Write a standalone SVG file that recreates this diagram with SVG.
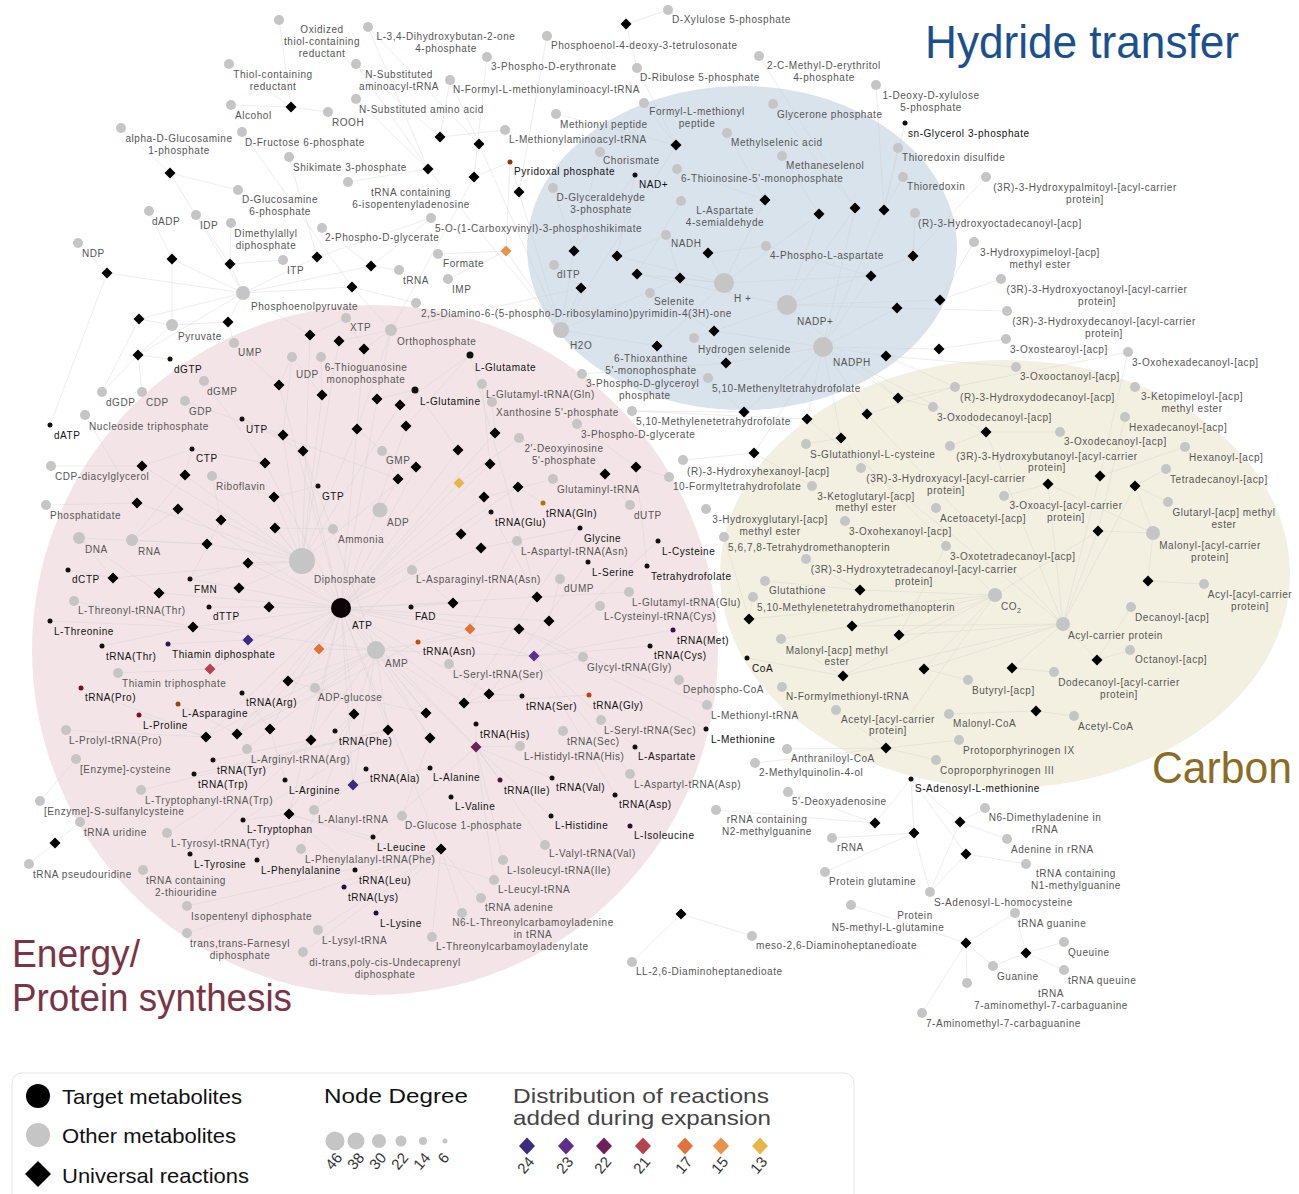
<svg xmlns="http://www.w3.org/2000/svg" xmlns:xlink="http://www.w3.org/1999/xlink" width="1299" height="1194" viewBox="0 0 1299 1194">
<style>
text{font-family:"Liberation Sans",Arial,Helvetica,sans-serif;font-size:10px;letter-spacing:0.55px}
.m text{fill:#555}
.c{text-anchor:middle}
.e path{fill:none;stroke:#cfcfcf;stroke-width:0.5;opacity:0.75}
.lg text{font-size:21px;letter-spacing:0;fill:#111}
.ln text{font-size:15px;letter-spacing:0;fill:#333}
text.ht{font-size:46px;letter-spacing:0;fill:#1c4f8e}
text.cb{font-size:44px;letter-spacing:0;fill:#8c6b25}
text.ep{font-size:38px;letter-spacing:0;fill:#7a3347}
</style>
<defs>
<path id="dia" d="M0,-5.5L5.5,0L0,5.5L-5.5,0Z"/>
<path id="dial" d="M0,-8.5L8,0L0,8.5L-8,0Z"/>
</defs>
<rect width="1299" height="1194" fill="#fff"/>
<g id="regions">
<ellipse cx="375" cy="650" rx="343" ry="345" fill="#f3e5e7"/>
<ellipse cx="742" cy="248" rx="215" ry="162" fill="#d9e3eb"/>
<ellipse cx="1005" cy="574" rx="285" ry="214" fill="#f4f0e1"/>
</g>
<g id="connectors" class="e">
<path d="M291 107L229 64M291 107L231 105M291 107L328 112M291 107L279 20"/>
<path d="M170 173L121 128M170 173L238 190M170 173L243 293"/>
<path d="M428 169L356 99M428 169L356 64M428 169L368 27M428 169L348 182M428 169L561 330"/>
<path d="M440 137L356 64M440 137L505 130M440 137L450 80"/>
<path d="M479 144L450 80M479 144L368 27M479 144L561 330"/>
<path d="M474 177L487 57M474 177L510 162M474 177L391 330"/>
<path d="M519 192L510 162M519 192L547 36M519 192L561 330"/>
<path d="M626 24L668 10M626 24L637 68"/>
<path d="M506 251L438 254M506 251L448 279M506 251L510 162M506 251L561 330"/>
<path d="M676 145L644 103M676 145L556 114M676 145L561 330M676 145L637 68"/>
<path d="M765 200L677 169M765 200L727 133M765 200L724 283"/>
<path d="M819 214L782 156M819 214L724 283M819 214L787 305"/>
<path d="M855 208L773 104M855 208L823 347M855 208L787 305M855 208L759 56"/>
<path d="M574 251L553 188M574 251L561 330M574 251L635 175M574 251L600 152"/>
<path d="M617 256L635 175M617 256L666 235M617 256L724 283"/>
<path d="M637 274L681 201M637 274L724 283M637 274L787 305"/>
<path d="M680 278L666 235M680 278L724 283M680 278L561 330"/>
<path d="M708 253L666 235M708 253L766 246M708 253L724 283"/>
<path d="M581 288L554 265M581 288L561 330M581 288L391 330"/>
<path d="M714 331L650 293M714 331L694 338M714 331L823 347M714 331L787 305"/>
<path d="M657 346L708 378M657 346L561 330M657 346L724 283"/>
<path d="M726 363L694 338M726 363L823 347M726 363L582 374"/>
<path d="M884 210L903 177M884 210L898 148M884 210L823 347M884 210L905 123M884 210L876 85"/>
<path d="M913 256L915 213M913 256L986 177M913 256L787 305"/>
<path d="M871 276L724 283M871 276L823 347M871 276L766 246"/>
<path d="M940 300L974 242M940 300L1001 279M940 300L787 305"/>
<path d="M897 308L1007 311M897 308L787 305M897 308L823 347"/>
<path d="M939 349L1006 339M939 349L823 347"/>
<path d="M886 356L823 347M886 356L1016 367M886 356L955 387"/>
<path d="M744 412L708 378M744 412L632 411M744 412L823 347"/>
<path d="M807 419L823 347M807 419L632 411M807 419L1063 624"/>
<path d="M754 453L683 460M754 453L812 486M754 453L823 347"/>
<path d="M841 438L806 444M841 438L823 347M841 438L995 595"/>
<path d="M867 414L955 387M867 414L823 347M867 414L1063 624"/>
<path d="M898 398L933 407M898 398L823 347M898 398L787 305M898 398L1128 352"/>
<path d="M986 432L1060 432M986 432L950 446M986 432L1063 624M986 432L823 347"/>
<path d="M1100 476L1128 352M1100 476L1185 447M1100 476L1063 624"/>
<path d="M1048 484L1004 496M1048 484L1063 624M1048 484L1153 533"/>
<path d="M1135 486L1166 469M1135 486L1168 502M1135 486L1153 533M1135 486L1063 624"/>
<path d="M1098 531L1153 533M1098 531L1063 624M1098 531L995 595M1098 531L1125 417"/>
<path d="M860 590L765 581M860 590L806 559M860 590L995 595"/>
<path d="M1148 581L1153 533M1148 581L1204 584"/>
<path d="M852 626L995 595M852 626L781 639M852 626L1063 624"/>
<path d="M749 619L753 597M749 619L724 537M749 619L995 595"/>
<path d="M899 635L995 595M899 635L1063 624M899 635L946 546"/>
<path d="M924 669L995 595M924 669L968 680M924 669L1063 624"/>
<path d="M1012 668L1063 624M1012 668L1054 672"/>
<path d="M1097 660L1063 624M1097 660L1130 650M1097 660L1131 607"/>
<path d="M843 676L747 658M843 676L781 639M843 676L1063 624M843 676L995 595"/>
<path d="M1036 711L949 714M1036 711L1074 716"/>
<path d="M886 748L959 740M886 748L936 760M886 748L995 595M886 748L787 749M886 748L755 763M886 748L836 710"/>
<path d="M875 823L911 779M875 823L788 792M875 823L716 810"/>
<path d="M914 833L911 779M914 833L832 838M914 833L930 892M914 833L825 872"/>
<path d="M960 822L911 779M960 822L985 808M960 822L1007 839M960 822L930 892"/>
<path d="M966 854L911 779M966 854L1026 864M966 854L930 892"/>
<path d="M966 943L1015 913M966 943L922 1013M966 943L967 983M966 943L993 966M966 943L851 905"/>
<path d="M1026 953L1015 913M1026 953L1064 942M1026 953L1064 970M1026 953L993 966"/>
<path d="M681 914L752 936M681 914L632 962"/>
<path d="M55 843L80 822M55 843L29 864"/>
<path d="M172 259L149 211M172 259L243 293M172 259L172 325"/>
<path d="M230 264L196 215M230 264L283 260M230 264L243 293M230 264L231 223"/>
<path d="M317 257L289 157M317 257L431 218M317 257L243 293"/>
<path d="M371 266L322 228M371 266L399 270M371 266L243 293M371 266L431 218"/>
<path d="M352 287L243 293M352 287L242 132M352 287L391 330M352 287L416 303"/>
<path d="M107 273L78 243M107 273L243 293M107 273L50 425"/>
<path d="M139 319L172 325M139 319L243 293M139 319L102 392"/>
<path d="M228 322L172 325M228 322L243 293M228 322L234 343"/>
<path d="M310 335L346 318M310 335L243 293M310 335L302 561"/>
<path d="M339 341L391 330M339 341L302 561"/>
<path d="M364 349L391 330M364 349L346 318M364 349L341 608"/>
<path d="M138 355L170 359M138 355L102 392M138 355L172 325M138 355L243 293M138 355L142 392"/>
<path d="M279 385L234 343M279 385L292 357M279 385L341 608"/>
<path d="M322 395L292 357M322 395L321 357M322 395L302 561"/>
<path d="M377 399L415 390M377 399L391 330M377 399L341 608"/>
<path d="M400 405L415 390M400 405L302 561M400 405L470 355"/>
<path d="M406 426L470 355M406 426L341 608"/>
<path d="M357 429L382 451M357 429L302 561M357 429L391 330"/>
<path d="M283 435L242 419M283 435L292 357M283 435L302 561"/>
<path d="M303 451L341 608M303 451L242 419M303 451L376 650"/>
<path d="M265 463L192 449M265 463L341 608M265 463L204 381"/>
<path d="M416 467L382 451M416 467L341 608M416 467L302 561"/>
<path d="M398 479L382 451M398 479L380 510M398 479L185 401"/>
<path d="M142 466L51 466M142 466L192 449M142 466L302 561"/>
<path d="M185 475L192 449M185 475L302 561M185 475L132 540"/>
<path d="M274 497L318 486M274 497L302 561M274 497L212 476"/>
<path d="M137 503L46 505M137 503L302 561M137 503L85 415"/>
<path d="M178 509L132 540M178 509L341 608"/>
<path d="M221 520L302 561M221 520L190 579M221 520L212 476"/>
<path d="M275 528L341 608M275 528L302 561M275 528L333 529"/>
<path d="M207 544L132 540M207 544L302 561M207 544L79 538"/>
<path d="M248 563L302 561M248 563L341 608M248 563L190 579"/>
<path d="M113 578L68 570M113 578L79 538M113 578L302 561"/>
<path d="M159 593L79 538M159 593L341 608"/>
<path d="M239 588L190 579M239 588L302 561M239 588L341 608"/>
<path d="M269 607L341 608M269 607L209 607"/>
<path d="M193 627L74 601M193 627L50 621M193 627L102 646M193 627L341 608M193 627L376 650"/>
<path d="M248 640L168 644M248 640L341 608"/>
<path d="M210 669L118 673M210 669L168 644M210 669L341 608"/>
<path d="M319 649L341 608M319 649L376 650"/>
<path d="M288 681L341 608M288 681L376 650M288 681L315 688"/>
<path d="M206 737L139 715M206 737L81 688M206 737L66 730M206 737L341 608M206 737L376 650"/>
<path d="M237 734L178 704M237 734L418 642M237 734L341 608M237 734L376 650M237 734L412 570"/>
<path d="M270 729L242 693M270 729L285 780M270 729L247 749M270 729L341 608M270 729L376 650"/>
<path d="M311 740L213 760M311 740L190 854M311 740L167 833M311 740L341 608M311 740L376 650"/>
<path d="M354 714L335 731M354 714L257 860M354 714L301 849M354 714L341 608M354 714L376 650"/>
<path d="M388 730L194 774M388 730L243 820M388 730L141 790M388 730L341 608M388 730L376 650"/>
<path d="M430 738L341 608M430 738L376 650M430 738L402 816"/>
<path d="M426 713L341 608M426 713L376 650M426 713L315 688"/>
<path d="M353 785L366 769M353 785L430 768M353 785L314 810M353 785L341 608M353 785L376 650"/>
<path d="M289 814L243 820M289 814L341 608M289 814L355 870M289 814L373 837M289 814L494 880"/>
<path d="M441 849L376 913M441 849L344 887M441 849L318 930M441 849L341 608M441 849L481 898M441 849L462 913M441 849L432 937M441 849L187 906M441 849L187 933M441 849L303 952"/>
<path d="M464 703L589 695M464 703L580 528M464 703L583 657M464 703L341 608M464 703L376 650"/>
<path d="M489 694L522 696M489 694L588 562M489 694L449 664M489 694L341 608"/>
<path d="M476 747L476 724M476 747L551 816M476 747L520 746M476 747L341 608M476 747L376 650M476 747L500 780M476 747L503 860M476 747L552 778M476 747L545 845M476 747L373 837M476 747L494 880"/>
<path d="M470 629L418 642M470 629L517 541M470 629L341 608"/>
<path d="M534 656L673 630M534 656L650 646M534 656L600 606M534 656L658 541M534 656L341 608M534 656L376 650M534 656L635 747M534 656L615 795M534 656L630 774"/>
<path d="M453 603L411 607M453 603L341 608M453 603L412 570"/>
<path d="M537 597L629 592M537 597L491 512M537 597L470 355M537 597L341 608"/>
<path d="M549 621L560 579M549 621L341 608"/>
<path d="M519 629L341 608M519 629L376 650M519 629L706 729M519 629L707 705"/>
<path d="M495 433L492 402M495 433L341 608"/>
<path d="M458 450L415 390M458 450L341 608"/>
<path d="M490 464L482 384M490 464L341 608"/>
<path d="M518 487L543 503M518 487L341 608"/>
<path d="M484 497L553 479M484 497L341 608"/>
<path d="M459 483L519 438M459 483L341 608"/>
<path d="M461 534L341 608M461 534L491 512"/>
<path d="M481 548L580 528M481 548L341 608"/>
<path d="M605 474L630 505M605 474L519 438M605 474L577 424"/>
<path d="M636 467L577 424M636 467L647 566M636 467L669 477"/>
<path d="M40 801L76 759"/>
</g>
<g id="reactions" fill="#000">
<use href="#dia" x="291" y="107"/><use href="#dia" x="170" y="173"/><use href="#dia" x="428" y="169"/><use href="#dia" x="440" y="137"/><use href="#dia" x="172" y="259"/><use href="#dia" x="230" y="264"/><use href="#dia" x="317" y="257"/><use href="#dia" x="371" y="266"/><use href="#dia" x="352" y="287"/><use href="#dia" x="107" y="273"/><use href="#dia" x="139" y="319"/><use href="#dia" x="228" y="322"/><use href="#dia" x="310" y="335"/><use href="#dia" x="339" y="341"/><use href="#dia" x="364" y="349"/><use href="#dia" x="138" y="355"/>
<use href="#dia" x="626" y="24"/><use href="#dia" x="479" y="144"/><use href="#dia" x="474" y="177"/><use href="#dia" x="519" y="192"/><use href="#dia" x="676" y="145"/><use href="#dia" x="765" y="200"/><use href="#dia" x="819" y="214"/><use href="#dia" x="855" y="208"/><use href="#dia" x="574" y="251"/><use href="#dia" x="617" y="256"/><use href="#dia" x="637" y="274"/><use href="#dia" x="680" y="278"/><use href="#dia" x="708" y="253"/><use href="#dia" x="581" y="288"/><use href="#dia" x="714" y="331"/><use href="#dia" x="657" y="346"/><use href="#dia" x="726" y="363"/>
<use href="#dia" x="884" y="210"/><use href="#dia" x="913" y="256"/><use href="#dia" x="871" y="276"/><use href="#dia" x="940" y="300"/><use href="#dia" x="897" y="308"/><use href="#dia" x="939" y="349"/><use href="#dia" x="886" y="356"/><use href="#dia" x="744" y="412"/><use href="#dia" x="807" y="419"/><use href="#dia" x="754" y="453"/><use href="#dia" x="841" y="438"/><use href="#dia" x="867" y="414"/><use href="#dia" x="898" y="398"/><use href="#dia" x="986" y="432"/><use href="#dia" x="1100" y="476"/><use href="#dia" x="1048" y="484"/><use href="#dia" x="1135" y="486"/><use href="#dia" x="1098" y="531"/><use href="#dia" x="860" y="590"/><use href="#dia" x="1148" y="581"/><use href="#dia" x="852" y="626"/><use href="#dia" x="749" y="619"/><use href="#dia" x="899" y="635"/><use href="#dia" x="924" y="669"/><use href="#dia" x="1012" y="668"/><use href="#dia" x="1097" y="660"/><use href="#dia" x="843" y="676"/><use href="#dia" x="1036" y="711"/><use href="#dia" x="886" y="748"/><use href="#dia" x="875" y="823"/><use href="#dia" x="914" y="833"/><use href="#dia" x="960" y="822"/><use href="#dia" x="966" y="854"/><use href="#dia" x="966" y="943"/><use href="#dia" x="1026" y="953"/><use href="#dia" x="681" y="914"/>
<use href="#dia" x="279" y="385"/><use href="#dia" x="322" y="395"/><use href="#dia" x="377" y="399"/><use href="#dia" x="400" y="405"/><use href="#dia" x="406" y="426"/><use href="#dia" x="357" y="429"/><use href="#dia" x="283" y="435"/><use href="#dia" x="303" y="451"/><use href="#dia" x="265" y="463"/><use href="#dia" x="416" y="467"/><use href="#dia" x="398" y="479"/><use href="#dia" x="142" y="466"/><use href="#dia" x="185" y="475"/><use href="#dia" x="274" y="497"/><use href="#dia" x="137" y="503"/><use href="#dia" x="178" y="509"/><use href="#dia" x="221" y="520"/><use href="#dia" x="275" y="528"/><use href="#dia" x="207" y="544"/><use href="#dia" x="248" y="563"/><use href="#dia" x="113" y="578"/><use href="#dia" x="159" y="593"/><use href="#dia" x="239" y="588"/><use href="#dia" x="269" y="607"/><use href="#dia" x="193" y="627"/><use href="#dia" x="288" y="681"/><use href="#dia" x="206" y="737"/><use href="#dia" x="237" y="734"/><use href="#dia" x="270" y="729"/><use href="#dia" x="311" y="740"/><use href="#dia" x="354" y="714"/><use href="#dia" x="388" y="730"/><use href="#dia" x="430" y="738"/><use href="#dia" x="426" y="713"/><use href="#dia" x="289" y="814"/><use href="#dia" x="441" y="849"/><use href="#dia" x="464" y="703"/><use href="#dia" x="489" y="694"/><use href="#dia" x="453" y="603"/><use href="#dia" x="537" y="597"/><use href="#dia" x="549" y="621"/><use href="#dia" x="519" y="629"/><use href="#dia" x="495" y="433"/><use href="#dia" x="458" y="450"/><use href="#dia" x="490" y="464"/><use href="#dia" x="518" y="487"/><use href="#dia" x="484" y="497"/><use href="#dia" x="461" y="534"/><use href="#dia" x="481" y="548"/><use href="#dia" x="605" y="474"/><use href="#dia" x="636" y="467"/><use href="#dia" x="55" y="843"/>
<use href="#dia" x="248" y="640" fill="#3b2c7e"/><use href="#dia" x="353" y="785" fill="#3b2c7e"/><use href="#dia" x="534" y="656" fill="#5d2e8c"/><use href="#dia" x="476" y="747" fill="#6d2158"/><use href="#dia" x="210" y="669" fill="#b5434f"/><use href="#dia" x="319" y="649" fill="#e0733a"/><use href="#dia" x="470" y="629" fill="#e0733a"/><use href="#dia" x="506" y="251" fill="#e8924a"/><use href="#dia" x="459" y="483" fill="#e8b548"/>
</g>
<g id="metabolites" class="m" fill="#c5c5c5">
<g id="oxid"><circle cx="279" cy="20" r="5"/><text class="c" x="322" y="33">Oxidized<tspan x="322" dy="12">thiol-containing</tspan><tspan x="322" dy="12">reductant</tspan></text></g>
<g id="dhb4p"><circle cx="368" cy="27" r="5"/><text class="c" x="446" y="40">L-3,4-Dihydroxybutan-2-one<tspan x="446" dy="12">4-phosphate</tspan></text></g>
<g id="thiol"><circle cx="229" cy="64" r="5"/><text class="c" x="273" y="78">Thiol-containing<tspan x="273" dy="12">reductant</tspan></text></g>
<g id="nsubaatrna"><circle cx="356" cy="64" r="5"/><text class="c" x="399" y="78">N-Substituted<tspan x="399" dy="12">aminoacyl-tRNA</tspan></text></g>
<g id="alcohol"><circle cx="231" cy="105" r="5"/><text x="235" y="119">Alcohol</text></g>
<g id="rooh"><circle cx="328" cy="112" r="5"/><text x="332" y="126">ROOH</text></g>
<g id="nsubaa"><circle cx="356" cy="99" r="5"/><text x="359" y="113">N-Substituted amino acid</text></g>
<g id="aglcn1p"><circle cx="121" cy="128" r="5"/><text class="c" x="179" y="142">alpha-D-Glucosamine<tspan x="179" dy="12">1-phosphate</tspan></text></g>
<g id="f6p"><circle cx="242" cy="132" r="5"/><text x="245" y="146">D-Fructose 6-phosphate</text></g>
<g id="s3p"><circle cx="289" cy="157" r="5"/><text x="293" y="171">Shikimate 3-phosphate</text></g>
<g id="trnai6a"><circle cx="348" cy="182" r="5"/><text class="c" x="411" y="196">tRNA containing<tspan x="411" dy="12">6-isopentenyladenosine</tspan></text></g>
<g id="glcn6p"><circle cx="238" cy="190" r="5"/><text class="c" x="280" y="203">D-Glucosamine<tspan x="280" dy="12">6-phosphate</tspan></text></g>
<g id="dadp"><circle cx="149" cy="211" r="5"/><text x="152" y="225">dADP</text></g>
<g id="idp"><circle cx="196" cy="215" r="5"/><text x="200" y="229">IDP</text></g>
<g id="dmapp"><circle cx="231" cy="223" r="5"/><text class="c" x="266" y="237">Dimethylallyl<tspan x="266" dy="12">diphosphate</tspan></text></g>
<g id="ndp"><circle cx="78" cy="243" r="5"/><text x="82" y="257">NDP</text></g>
<g id="pg2"><circle cx="322" cy="228" r="5"/><text x="325" y="241">2-Phospho-D-glycerate</text></g>
<g id="epsp"><circle cx="431" cy="218" r="5"/><text x="435" y="232">5-O-(1-Carboxyvinyl)-3-phosphoshikimate</text></g>
<g id="itp"><circle cx="283" cy="260" r="5"/><text x="287" y="274">ITP</text></g>
<g id="trna"><circle cx="399" cy="270" r="5"/><text x="403" y="284">tRNA</text></g>
<g id="pep"><circle cx="243" cy="293" r="7"/><text x="251" y="310">Phosphoenolpyruvate</text></g>
<g id="dapr"><circle cx="416" cy="303" r="5"/><text x="421" y="317">2,5-Diamino-6-(5-phospho-D-ribosylamino)pyrimidin-4(3H)-one</text></g>
<g id="pyr"><circle cx="172" cy="325" r="6"/><text x="178" y="340">Pyruvate</text></g>
<g id="xtp"><circle cx="346" cy="318" r="5"/><text x="350" y="331">XTP</text></g>
<g id="pi"><circle cx="391" cy="330" r="6"/><text x="397" y="345">Orthophosphate</text></g>
<g id="xu5p"><circle cx="668" cy="10" r="5"/><text x="672" y="23">D-Xylulose 5-phosphate</text></g>
<g id="pdt"><circle cx="547" cy="36" r="5"/><text x="551" y="49">Phosphoenol-4-deoxy-3-tetrulosonate</text></g>
<g id="pde3"><circle cx="487" cy="57" r="5"/><text x="491" y="70">3-Phospho-D-erythronate</text></g>
<g id="ru5p"><circle cx="637" cy="68" r="5"/><text x="640" y="81">D-Ribulose 5-phosphate</text></g>
<g id="fmettrna"><circle cx="450" cy="80" r="5"/><text x="453" y="93">N-Formyl-L-methionylaminoacyl-tRNA</text></g>
<g id="mep"><circle cx="759" cy="56" r="5"/><text class="c" x="824" y="69">2-C-Methyl-D-erythritol<tspan x="824" dy="12">4-phosphate</tspan></text></g>
<g id="fmetpep"><circle cx="644" cy="103" r="5"/><text class="c" x="697" y="115">Formyl-L-methionyl<tspan x="697" dy="12">peptide</tspan></text></g>
<g id="metpep"><circle cx="556" cy="114" r="5"/><text x="560" y="128">Methionyl peptide</text></g>
<g id="metaatrna"><circle cx="505" cy="130" r="5"/><text x="509" y="143">L-Methionylaminoacyl-tRNA</text></g>
<g id="dhap"><circle cx="773" cy="104" r="5"/><text x="777" y="118">Glycerone phosphate</text></g>
<g id="msa"><circle cx="727" cy="133" r="5"/><text x="731" y="146">Methylselenic acid</text></g>
<g id="chor"><circle cx="600" cy="152" r="5"/><text x="603" y="164">Chorismate</text></g>
<g id="mse"><circle cx="782" cy="156" r="5"/><text x="786" y="169">Methaneselenol</text></g>
<g id="timp"><circle cx="677" cy="169" r="5"/><text x="681" y="182">6-Thioinosine-5'-monophosphate</text></g>
<g id="gap"><circle cx="553" cy="188" r="5"/><text class="c" x="601" y="201">D-Glyceraldehyde<tspan x="601" dy="12">3-phosphate</tspan></text></g>
<g id="asa"><circle cx="681" cy="201" r="5"/><text class="c" x="725" y="214">L-Aspartate<tspan x="725" dy="12">4-semialdehyde</tspan></text></g>
<g id="formate"><circle cx="438" cy="254" r="5"/><text x="443" y="267">Formate</text></g>
<g id="nadh"><circle cx="666" cy="235" r="5"/><text x="671" y="247">NADH</text></g>
<g id="pasp"><circle cx="766" cy="246" r="5"/><text x="770" y="259">4-Phospho-L-aspartate</text></g>
<g id="ditp"><circle cx="554" cy="265" r="5"/><text x="557" y="278">dITP</text></g>
<g id="imp"><circle cx="448" cy="279" r="5"/><text x="452" y="293">IMP</text></g>
<g id="hplus"><circle cx="724" cy="283" r="10"/><text x="734" y="302">H +</text></g>
<g id="selenite"><circle cx="650" cy="293" r="5"/><text x="654" y="305">Selenite</text></g>
<g id="nadp"><circle cx="787" cy="305" r="10"/><text x="797" y="325">NADP+</text></g>
<g id="h2o"><circle cx="561" cy="330" r="8"/><text x="570" y="349">H2O</text></g>
<g id="nadph"><circle cx="823" cy="347" r="10"/><text x="833" y="366">NADPH</text></g>
<g id="h2se"><circle cx="694" cy="338" r="5"/><text x="698" y="353">Hydrogen selenide</text></g>
<g id="dxp"><circle cx="876" cy="85" r="5"/><text class="c" x="931" y="99">1-Deoxy-D-xylulose<tspan x="931" dy="12">5-phosphate</tspan></text></g>
<g id="trxss"><circle cx="898" cy="148" r="5"/><text x="902" y="161">Thioredoxin disulfide</text></g>
<g id="trx"><circle cx="903" cy="177" r="5"/><text x="907" y="190">Thioredoxin</text></g>
<g id="hpalm"><circle cx="986" cy="177" r="5"/><text class="c" x="1085" y="191">(3R)-3-Hydroxypalmitoyl-[acyl-carrier<tspan x="1085" dy="12">protein]</tspan></text></g>
<g id="hoctadec"><circle cx="915" cy="213" r="5"/><text x="918" y="227">(R)-3-Hydroxyoctadecanoyl-[acp]</text></g>
<g id="hpim"><circle cx="974" cy="242" r="5"/><text class="c" x="1040" y="256">3-Hydroxypimeloyl-[acp]<tspan x="1040" dy="12">methyl ester</tspan></text></g>
<g id="hoct"><circle cx="1001" cy="279" r="5"/><text class="c" x="1097" y="293">(3R)-3-Hydroxyoctanoyl-[acyl-carrier<tspan x="1097" dy="12">protein]</tspan></text></g>
<g id="hdec"><circle cx="1007" cy="311" r="5"/><text class="c" x="1104" y="325">(3R)-3-Hydroxydecanoyl-[acyl-carrier<tspan x="1104" dy="12">protein]</tspan></text></g>
<g id="oxostear"><circle cx="1006" cy="339" r="5"/><text x="1010" y="353">3-Oxostearoyl-[acp]</text></g>
<g id="ump"><circle cx="234" cy="343" r="5"/><text x="238" y="356">UMP</text></g>
<g id="udp"><circle cx="292" cy="357" r="5"/><text x="296" y="378">UDP</text></g>
<g id="tgmp"><circle cx="321" cy="357" r="5"/><text class="c" x="366" y="371">6-Thioguanosine<tspan x="366" dy="12">monophosphate</tspan></text></g>
<g id="dgmp"><circle cx="204" cy="381" r="5"/><text x="207" y="395">dGMP</text></g>
<g id="dgdp"><circle cx="102" cy="392" r="5"/><text x="106" y="406">dGDP</text></g>
<g id="cdp"><circle cx="142" cy="392" r="5"/><text x="146" y="406">CDP</text></g>
<g id="gdp"><circle cx="185" cy="401" r="5"/><text x="189" y="415">GDP</text></g>
<g id="ntp"><circle cx="85" cy="415" r="5"/><text x="89" y="430">Nucleoside triphosphate</text></g>
<g id="gmp"><circle cx="382" cy="451" r="5"/><text x="386" y="464">GMP</text></g>
<g id="cdpdag"><circle cx="51" cy="466" r="5"/><text x="55" y="480">CDP-diacylglycerol</text></g>
<g id="ribo"><circle cx="212" cy="476" r="5"/><text x="216" y="490">Riboflavin</text></g>
<g id="pa"><circle cx="46" cy="505" r="5"/><text x="50" y="519">Phosphatidate</text></g>
<g id="adp"><circle cx="380" cy="510" r="7.5"/><text x="387" y="526">ADP</text></g>
<g id="dna"><circle cx="79" cy="538" r="6"/><text x="85" y="553">DNA</text></g>
<g id="rna"><circle cx="132" cy="540" r="6"/><text x="138" y="555">RNA</text></g>
<g id="nh3"><circle cx="333" cy="529" r="5"/><text x="338" y="543">Ammonia</text></g>
<g id="ppi"><circle cx="302" cy="561" r="13"/><text x="314" y="583">Diphosphate</text></g>
<g id="asntrnaasn"><circle cx="412" cy="570" r="5"/><text x="416" y="583">L-Asparaginyl-tRNA(Asn)</text></g>
<g id="thrtrna"><circle cx="74" cy="601" r="5"/><text x="78" y="614">L-Threonyl-tRNA(Thr)</text></g>
<g id="amp"><circle cx="376" cy="650" r="9"/><text x="385" y="667">AMP</text></g>
<g id="thtp"><circle cx="118" cy="673" r="5"/><text x="122" y="687">Thiamin triphosphate</text></g>
<g id="adpglc"><circle cx="315" cy="688" r="5"/><text x="318" y="701">ADP-glucose</text></g>
<g id="pgp3"><circle cx="582" cy="374" r="5"/><text x="586" y="387">3-Phospho-D-glyceroyl<tspan x="619" dy="12">phosphate</tspan></text></g>
<g id="txmp"><circle cx="708" cy="378" r="5"/><text class="c" x="651" y="362">6-Thioxanthine<tspan x="651" dy="12">5'-monophosphate</tspan></text></g>
<g id="glutrnagln"><circle cx="482" cy="384" r="5"/><text x="486" y="398">L-Glutamyl-tRNA(Gln)</text></g>
<g id="xmp"><circle cx="492" cy="402" r="5"/><text x="496" y="416">Xanthosine 5'-phosphate</text></g>
<g id="methenyl"><text x="712" y="392">5,10-Methenyltetrahydrofolate</text></g>
<g id="mthf"><circle cx="632" cy="411" r="5"/><text x="636" y="425">5,10-Methylenetetrahydrofolate</text></g>
<g id="pg3"><circle cx="577" cy="424" r="5"/><text x="581" y="438">3-Phospho-D-glycerate</text></g>
<g id="dimp"><circle cx="519" cy="438" r="5"/><text class="c" x="564" y="452">2'-Deoxyinosine<tspan x="564" dy="12">5'-phosphate</tspan></text></g>
<g id="glntrna"><circle cx="553" cy="479" r="5"/><text x="557" y="493">Glutaminyl-tRNA</text></g>
<g id="fthf"><circle cx="669" cy="477" r="5"/><text x="673" y="490">10-Formyltetrahydrofolate</text></g>
<g id="hhex"><circle cx="683" cy="460" r="5"/><text x="687" y="475">(R)-3-Hydroxyhexanoyl-[acp]</text></g>
<g id="ketoglut"><circle cx="812" cy="486" r="5"/><text class="c" x="866" y="500">3-Ketoglutaryl-[acp]<tspan x="866" dy="11">methyl ester</tspan></text></g>
<g id="sgc"><circle cx="806" cy="444" r="5"/><text x="810" y="458">S-Glutathionyl-L-cysteine</text></g>
<g id="hacyl"><circle cx="861" cy="468" r="5"/><text class="c" x="946" y="482">(3R)-3-Hydroxyacyl-[acyl-carrier<tspan x="946" dy="12">protein]</tspan></text></g>
<g id="dutp"><circle cx="630" cy="505" r="5"/><text x="634" y="519">dUTP</text></g>
<g id="hglut"><circle cx="706" cy="509" r="5"/><text class="c" x="770" y="523">3-Hydroxyglutaryl-[acp]<tspan x="770" dy="12">methyl ester</tspan></text></g>
<g id="oxohex"><circle cx="845" cy="521" r="5"/><text x="849" y="535">3-Oxohexanoyl-[acp]</text></g>
<g id="asptrnaasn"><circle cx="517" cy="541" r="5"/><text x="521" y="555">L-Aspartyl-tRNA(Asn)</text></g>
<g id="h4mpt"><circle cx="724" cy="537" r="5"/><text x="728" y="551">5,6,7,8-Tetrahydromethanopterin</text></g>
<g id="htetradec"><circle cx="806" cy="559" r="5"/><text class="c" x="914" y="573">(3R)-3-Hydroxytetradecanoyl-[acyl-carrier<tspan x="914" dy="12">protein]</tspan></text></g>
<g id="dump"><circle cx="560" cy="579" r="5"/><text x="564" y="592">dUMP</text></g>
<g id="gsh"><circle cx="765" cy="581" r="5"/><text x="769" y="594">Glutathione</text></g>
<g id="glutrnaglu"><circle cx="629" cy="592" r="5"/><text x="632" y="606">L-Glutamyl-tRNA(Glu)</text></g>
<g id="mh4mpt"><circle cx="753" cy="597" r="5"/><text x="757" y="611">5,10-Methylenetetrahydromethanopterin</text></g>
<g id="cystrna"><circle cx="600" cy="606" r="5"/><text x="604" y="620">L-Cysteinyl-tRNA(Cys)</text></g>
<g id="glytrna"><circle cx="583" cy="657" r="5"/><text x="587" y="671">Glycyl-tRNA(Gly)</text></g>
<g id="malacpme"><circle cx="781" cy="639" r="5"/><text class="c" x="837" y="654">Malonyl-[acp] methyl<tspan x="837" dy="11">ester</tspan></text></g>
<g id="sertrna"><circle cx="449" cy="664" r="5"/><text x="453" y="678">L-Seryl-tRNA(Ser)</text></g>
<g id="dpcoa"><circle cx="679" cy="680" r="5"/><text x="683" y="693">Dephospho-CoA</text></g>
<g id="oxohexadec"><circle cx="1128" cy="352" r="5"/><text x="1132" y="366">3-Oxohexadecanoyl-[acp]</text></g>
<g id="oxooct"><circle cx="1016" cy="367" r="5"/><text x="1020" y="380">3-Oxooctanoyl-[acp]</text></g>
<g id="ketopim"><circle cx="1135" cy="387" r="5"/><text class="c" x="1192" y="400">3-Ketopimeloyl-[acp]<tspan x="1192" dy="12">methyl ester</tspan></text></g>
<g id="hdodec"><circle cx="955" cy="387" r="5"/><text x="960" y="401">(R)-3-Hydroxydodecanoyl-[acp]</text></g>
<g id="oxododec"><circle cx="933" cy="407" r="5"/><text x="937" y="421">3-Oxododecanoyl-[acp]</text></g>
<g id="hexadec"><circle cx="1125" cy="417" r="5"/><text x="1129" y="431">Hexadecanoyl-[acp]</text></g>
<g id="oxodec"><circle cx="1060" cy="432" r="5"/><text x="1064" y="445">3-Oxodecanoyl-[acp]</text></g>
<g id="hbut"><circle cx="950" cy="446" r="5"/><text class="c" x="1047" y="460">(3R)-3-Hydroxybutanoyl-[acyl-carrier<tspan x="1047" dy="11">protein]</tspan></text></g>
<g id="hexanoyl"><circle cx="1185" cy="447" r="5"/><text x="1189" y="461">Hexanoyl-[acp]</text></g>
<g id="tetradec"><circle cx="1166" cy="469" r="5"/><text x="1170" y="483">Tetradecanoyl-[acp]</text></g>
<g id="oxoacyl"><circle cx="1004" cy="496" r="5"/><text class="c" x="1066" y="509">3-Oxoacyl-[acyl-carrier<tspan x="1066" dy="12">protein]</tspan></text></g>
<g id="acac"><circle cx="936" cy="508" r="5"/><text x="940" y="522">Acetoacetyl-[acp]</text></g>
<g id="glutme"><circle cx="1168" cy="502" r="5"/><text class="c" x="1224" y="516">Glutaryl-[acp] methyl<tspan x="1224" dy="12">ester</tspan></text></g>
<g id="malacp"><circle cx="1153" cy="533" r="7"/><text class="c" x="1210" y="549">Malonyl-[acyl-carrier<tspan x="1210" dy="12">protein]</tspan></text></g>
<g id="oxotetradec"><circle cx="946" cy="546" r="5"/><text x="950" y="560">3-Oxotetradecanoyl-[acp]</text></g>
<g id="acylacp"><circle cx="1204" cy="584" r="5"/><text class="c" x="1250" y="598">Acyl-[acyl-carrier<tspan x="1250" dy="12">protein]</tspan></text></g>
<g id="co2"><circle cx="995" cy="595" r="7"/><text x="1001" y="610">CO<tspan style="font-size:7px" dy="3">2</tspan></text></g>
<g id="decanoyl"><circle cx="1131" cy="607" r="5"/><text x="1135" y="621">Decanoyl-[acp]</text></g>
<g id="acp"><circle cx="1063" cy="624" r="7"/><text x="1068" y="639">Acyl-carrier protein</text></g>
<g id="octanoyl"><circle cx="1130" cy="650" r="5"/><text x="1135" y="663">Octanoyl-[acp]</text></g>
<g id="butyryl"><circle cx="968" cy="680" r="5"/><text x="972" y="694">Butyryl-[acp]</text></g>
<g id="dodecanoyl"><circle cx="1054" cy="672" r="5"/><text class="c" x="1119" y="686">Dodecanoyl-[acyl-carrier<tspan x="1119" dy="12">protein]</tspan></text></g>
<g id="malcoa"><circle cx="949" cy="714" r="5"/><text x="953" y="727">Malonyl-CoA</text></g>
<g id="accoa"><circle cx="1074" cy="716" r="5"/><text x="1078" y="730">Acetyl-CoA</text></g>
<g id="acacp"><circle cx="836" cy="710" r="5"/><text class="c" x="888" y="723">Acetyl-[acyl-carrier<tspan x="888" dy="11">protein]</tspan></text></g>
<g id="nfmettrna"><circle cx="782" cy="687" r="5"/><text x="786" y="700">N-Formylmethionyl-tRNA</text></g>
<g id="protoix"><circle cx="959" cy="740" r="5"/><text x="963" y="754">Protoporphyrinogen IX</text></g>
<g id="copro"><circle cx="936" cy="760" r="5"/><text x="940" y="774">Coproporphyrinogen III</text></g>
<g id="n6dma"><circle cx="985" cy="808" r="5"/><text class="c" x="1045" y="821">N6-Dimethyladenine in<tspan x="1045" dy="12">rRNA</tspan></text></g>
<g id="adenrrna"><circle cx="1007" cy="839" r="5"/><text x="1011" y="853">Adenine in rRNA</text></g>
<g id="trnam1g"><circle cx="1026" cy="864" r="5"/><text class="c" x="1076" y="877">tRNA containing<tspan x="1076" dy="12">N1-methylguanine</tspan></text></g>
<g id="sah"><circle cx="930" cy="892" r="5"/><text x="934" y="906">S-Adenosyl-L-homocysteine</text></g>
<g id="trnag"><circle cx="1015" cy="913" r="5"/><text x="1018" y="927">tRNA guanine</text></g>
<g id="protn5"><circle cx="851" cy="905" r="5"/><text class="c" x="915" y="919">Protein<tspan x="888" dy="12">N5-methyl-L-glutamine</tspan></text></g>
<g id="queuine"><circle cx="1064" cy="942" r="5"/><text x="1068" y="956">Queuine</text></g>
<g id="guanine"><circle cx="993" cy="966" r="5"/><text x="997" y="980">Guanine</text></g>
<g id="trnaq"><circle cx="1064" cy="970" r="5"/><text x="1068" y="984">tRNA queuine</text></g>
<g id="trnapreq1"><circle cx="967" cy="983" r="5"/><text class="c" x="1051" y="997">tRNA<tspan x="1051" dy="12">7-aminomethyl-7-carbaguanine</tspan></text></g>
<g id="preq1"><circle cx="922" cy="1013" r="5"/><text x="926" y="1027">7-Aminomethyl-7-carbaguanine</text></g>
<g id="mettrna"><circle cx="707" cy="705" r="5"/><text x="711" y="719">L-Methionyl-tRNA</text></g>
<g id="sersec"><circle cx="601" cy="720" r="5"/><text x="604" y="734">L-Seryl-tRNA(Sec)</text></g>
<g id="trnasec"><circle cx="563" cy="731" r="5"/><text x="567" y="745">tRNA(Sec)</text></g>
<g id="histrna"><circle cx="520" cy="746" r="5"/><text x="524" y="760">L-Histidyl-tRNA(His)</text></g>
<g id="anthcoa"><circle cx="787" cy="749" r="5"/><text x="791" y="762">Anthraniloyl-CoA</text></g>
<g id="mquin"><circle cx="755" cy="763" r="5"/><text x="759" y="776">2-Methylquinolin-4-ol</text></g>
<g id="asptrna"><circle cx="630" cy="774" r="5"/><text x="634" y="788">L-Aspartyl-tRNA(Asp)</text></g>
<g id="dado"><circle cx="788" cy="792" r="5"/><text x="792" y="805">5'-Deoxyadenosine</text></g>
<g id="rrnam2g"><circle cx="716" cy="810" r="5"/><text class="c" x="767" y="823">rRNA containing<tspan x="767" dy="12">N2-methylguanine</tspan></text></g>
<g id="glc1p"><circle cx="402" cy="816" r="5"/><text x="405" y="829">D-Glucose 1-phosphate</text></g>
<g id="rrna"><circle cx="832" cy="838" r="5"/><text x="837" y="851">rRNA</text></g>
<g id="valtrna"><circle cx="545" cy="845" r="5"/><text x="549" y="857">L-Valyl-tRNA(Val)</text></g>
<g id="iletrna"><circle cx="503" cy="860" r="5"/><text x="507" y="874">L-Isoleucyl-tRNA(Ile)</text></g>
<g id="protgln"><circle cx="825" cy="872" r="5"/><text x="829" y="885">Protein glutamine</text></g>
<g id="leutrna"><circle cx="494" cy="880" r="5"/><text x="498" y="893">L-Leucyl-tRNA</text></g>
<g id="trnaade"><circle cx="481" cy="898" r="5"/><text x="485" y="911">tRNA adenine</text></g>
<g id="t6a"><circle cx="462" cy="913" r="5"/><text class="c" x="533" y="926">N6-L-Threonylcarbamoyladenine<tspan x="533" dy="12">in tRNA</tspan></text></g>
<g id="meso"><circle cx="752" cy="936" r="5"/><text x="756" y="949">meso-2,6-Diaminoheptanedioate</text></g>
<g id="tcam"><circle cx="432" cy="937" r="5"/><text x="436" y="950">L-Threonylcarbamoyladenylate</text></g>
<g id="lldap"><circle cx="632" cy="962" r="5"/><text x="636" y="975">LL-2,6-Diaminoheptanedioate</text></g>
<g id="protrna"><circle cx="66" cy="730" r="5"/><text x="69" y="744">L-Prolyl-tRNA(Pro)</text></g>
<g id="argtrna"><circle cx="247" cy="749" r="5"/><text x="251" y="763">L-Arginyl-tRNA(Arg)</text></g>
<g id="enzcys"><circle cx="76" cy="759" r="5"/><text x="80" y="773">[Enzyme]-cysteine</text></g>
<g id="trptrna"><circle cx="141" cy="790" r="5"/><text x="145" y="804">L-Tryptophanyl-tRNA(Trp)</text></g>
<g id="enzs"><circle cx="40" cy="801" r="5"/><text x="44" y="815">[Enzyme]-S-sulfanylcysteine</text></g>
<g id="alatrna"><circle cx="314" cy="810" r="5"/><text x="318" y="823">L-Alanyl-tRNA</text></g>
<g id="trnau"><circle cx="80" cy="822" r="5"/><text x="84" y="836">tRNA uridine</text></g>
<g id="tyrtrna"><circle cx="167" cy="833" r="5"/><text x="171" y="847">L-Tyrosyl-tRNA(Tyr)</text></g>
<g id="phetrna"><circle cx="301" cy="849" r="5"/><text x="305" y="863">L-Phenylalanyl-tRNA(Phe)</text></g>
<g id="trnapsi"><circle cx="29" cy="864" r="5"/><text x="33" y="878">tRNA pseudouridine</text></g>
<g id="trnas2u"><circle cx="143" cy="870" r="5"/><text class="c" x="186" y="884">tRNA containing<tspan x="186" dy="12">2-thiouridine</tspan></text></g>
<g id="ipp"><circle cx="187" cy="906" r="5"/><text x="191" y="920">Isopentenyl diphosphate</text></g>
<g id="lystrna"><circle cx="318" cy="930" r="5"/><text x="322" y="944">L-Lysyl-tRNA</text></g>
<g id="fpp"><circle cx="187" cy="933" r="5"/><text class="c" x="240" y="947">trans,trans-Farnesyl<tspan x="240" dy="12">diphosphate</tspan></text></g>
<g id="undec"><circle cx="303" cy="952" r="5"/><text class="c" x="385" y="966">di-trans,poly-cis-Undecaprenyl<tspan x="385" dy="12">diphosphate</tspan></text></g>
</g>
<g id="targets" class="t" fill="#111">
<g id="plp"><circle cx="510" cy="162" r="2.5" fill="#8a3a10"/><text x="514" y="175">Pyridoxal phosphate</text></g>
<g id="nad"><circle cx="635" cy="175" r="2.5"/><text x="639" y="188">NAD+</text></g>
<g id="g3p"><circle cx="905" cy="123" r="2.5"/><text x="908" y="137">sn-Glycerol 3-phosphate</text></g>
<g id="dgtp"><circle cx="170" cy="359" r="2.5"/><text x="174" y="373">dGTP</text></g>
<g id="utp"><circle cx="242" cy="419" r="2.5"/><text x="246" y="433">UTP</text></g>
<g id="datp"><circle cx="50" cy="425" r="2.5"/><text x="54" y="439">dATP</text></g>
<g id="ctp"><circle cx="192" cy="449" r="2.5"/><text x="196" y="462">CTP</text></g>
<g id="gtp"><circle cx="318" cy="486" r="2.5"/><text x="322" y="500">GTP</text></g>
<g id="dctp"><circle cx="68" cy="570" r="2.5"/><text x="72" y="583">dCTP</text></g>
<g id="fmn"><circle cx="190" cy="579" r="2.5"/><text x="194" y="593">FMN</text></g>
<g id="dttp"><circle cx="209" cy="607" r="2.5"/><text x="213" y="620">dTTP</text></g>
<g id="atp"><circle cx="341" cy="608" r="10" fill="#0c0406"/><text x="352" y="629">ATP</text></g>
<g id="fad"><circle cx="411" cy="607" r="2.5"/><text x="415" y="620">FAD</text></g>
<g id="thr"><circle cx="50" cy="621" r="2.5"/><text x="54" y="635">L-Threonine</text></g>
<g id="trnathr"><circle cx="102" cy="646" r="2.5"/><text x="106" y="660">tRNA(Thr)</text></g>
<g id="thdp"><circle cx="168" cy="644" r="2.5" fill="#2a1a50"/><text x="172" y="658">Thiamin diphosphate</text></g>
<g id="trnaasn"><circle cx="418" cy="642" r="2.5" fill="#c05010"/><text x="423" y="655">tRNA(Asn)</text></g>
<g id="glu"><circle cx="470" cy="355" r="3.5"/><text x="475" y="371">L-Glutamate</text></g>
<g id="gln"><circle cx="415" cy="390" r="3.5"/><text x="420" y="405">L-Glutamine</text></g>
<g id="trnagln"><circle cx="543" cy="503" r="2.5" fill="#b07010"/><text x="546" y="517">tRNA(Gln)</text></g>
<g id="trnaglu"><circle cx="491" cy="512" r="2.5"/><text x="495" y="526">tRNA(Glu)</text></g>
<g id="gly"><circle cx="580" cy="528" r="2.5"/><text x="584" y="542">Glycine</text></g>
<g id="cys"><circle cx="658" cy="541" r="2.5"/><text x="662" y="555">L-Cysteine</text></g>
<g id="ser"><circle cx="588" cy="562" r="2.5"/><text x="592" y="576">L-Serine</text></g>
<g id="thf"><circle cx="647" cy="566" r="2.5"/><text x="651" y="580">Tetrahydrofolate</text></g>
<g id="trnamet"><circle cx="673" cy="630" r="2.5" fill="#3a1050"/><text x="677" y="644">tRNA(Met)</text></g>
<g id="trnacys"><circle cx="650" cy="646" r="2.5"/><text x="654" y="659">tRNA(Cys)</text></g>
<g id="coa"><circle cx="747" cy="658" r="2.5"/><text x="752" y="672">CoA</text></g>
<g id="trnapro"><circle cx="81" cy="688" r="2.5" fill="#701020"/><text x="85" y="701">tRNA(Pro)</text></g>
<g id="trnaarg"><circle cx="242" cy="693" r="2.5"/><text x="246" y="706">tRNA(Arg)</text></g>
<g id="asn"><circle cx="178" cy="704" r="2.5" fill="#a04010"/><text x="182" y="717">L-Asparagine</text></g>
<g id="pro"><circle cx="139" cy="715" r="2.5" fill="#801020"/><text x="143" y="729">L-Proline</text></g>
<g id="trnaphe"><circle cx="335" cy="731" r="2.5"/><text x="339" y="745">tRNA(Phe)</text></g>
<g id="trnatyr"><circle cx="213" cy="760" r="2.5"/><text x="217" y="774">tRNA(Tyr)</text></g>
<g id="trnatrp"><circle cx="194" cy="774" r="2.5"/><text x="198" y="788">tRNA(Trp)</text></g>
<g id="trnaala"><circle cx="366" cy="769" r="2.5"/><text x="370" y="782">tRNA(Ala)</text></g>
<g id="arg"><circle cx="285" cy="780" r="2.5"/><text x="289" y="794">L-Arginine</text></g>
<g id="trp"><circle cx="243" cy="820" r="2.5"/><text x="247" y="833">L-Tryptophan</text></g>
<g id="leu"><circle cx="373" cy="837" r="2.5"/><text x="377" y="851">L-Leucine</text></g>
<g id="tyr"><circle cx="190" cy="854" r="2.5"/><text x="194" y="868">L-Tyrosine</text></g>
<g id="phe"><circle cx="257" cy="860" r="2.5"/><text x="261" y="874">L-Phenylalanine</text></g>
<g id="trnaleu"><circle cx="355" cy="870" r="2.5"/><text x="359" y="884">tRNA(Leu)</text></g>
<g id="trnalys"><circle cx="344" cy="887" r="2.5" fill="#201040"/><text x="348" y="901">tRNA(Lys)</text></g>
<g id="lys"><circle cx="376" cy="913" r="2.5" fill="#201040"/><text x="380" y="927">L-Lysine</text></g>
<g id="trnaser"><circle cx="522" cy="696" r="2.5"/><text x="526" y="710">tRNA(Ser)</text></g>
<g id="trnagly"><circle cx="589" cy="695" r="2.5" fill="#c04010"/><text x="593" y="709">tRNA(Gly)</text></g>
<g id="met"><circle cx="706" cy="729" r="2.5"/><text x="711" y="743">L-Methionine</text></g>
<g id="trnahis"><circle cx="476" cy="724" r="2.5"/><text x="480" y="738">tRNA(His)</text></g>
<g id="asp"><circle cx="635" cy="747" r="2.5"/><text x="638" y="760">L-Aspartate</text></g>
<g id="ala"><circle cx="430" cy="768" r="2.5"/><text x="433" y="781">L-Alanine</text></g>
<g id="trnaile"><circle cx="500" cy="780" r="2.5" fill="#501040"/><text x="504" y="794">tRNA(Ile)</text></g>
<g id="trnaval"><circle cx="552" cy="778" r="2.5"/><text x="556" y="791">tRNA(Val)</text></g>
<g id="trnaasp"><circle cx="615" cy="795" r="2.5"/><text x="619" y="808">tRNA(Asp)</text></g>
<g id="val"><circle cx="451" cy="797" r="2.5"/><text x="455" y="810">L-Valine</text></g>
<g id="his"><circle cx="551" cy="816" r="2.5"/><text x="555" y="829">L-Histidine</text></g>
<g id="ile"><circle cx="630" cy="826" r="2.5" fill="#301030"/><text x="634" y="839">L-Isoleucine</text></g>
<g id="sam"><circle cx="911" cy="779" r="2.5"/><text x="915" y="792">S-Adenosyl-L-methionine</text></g>
</g>
<g id="titles">
<text class="ht" x="925" y="58" textLength="314" lengthAdjust="spacingAndGlyphs">Hydride transfer</text>
<text class="cb" x="1152" y="783" textLength="140" lengthAdjust="spacingAndGlyphs">Carbon</text>
<text class="ep" x="12" y="967" textLength="128" lengthAdjust="spacingAndGlyphs">Energy/</text>
<text class="ep" x="12" y="1011" textLength="280" lengthAdjust="spacingAndGlyphs">Protein synthesis</text>
</g>
<g id="legend">
<rect x="12" y="1073" width="842" height="132" rx="10" fill="#fff" stroke="#e4e4e4"/>
<g class="lg">
<circle cx="38" cy="1096" r="12" fill="#000"/>
<text x="62" y="1104" textLength="180" lengthAdjust="spacingAndGlyphs">Target metabolites</text>
<circle cx="38" cy="1135" r="12" fill="#c5c5c5"/>
<text x="62" y="1143" textLength="174" lengthAdjust="spacingAndGlyphs">Other metabolites</text>
<path d="M38,1161L51,1174L38,1187L25,1174Z" fill="#000"/>
<text x="62" y="1183" textLength="187" lengthAdjust="spacingAndGlyphs">Universal reactions</text>
<text x="324" y="1103" textLength="144" lengthAdjust="spacingAndGlyphs">Node Degree</text>
<text x="513" y="1103" style="fill:#444" textLength="256" lengthAdjust="spacingAndGlyphs">Distribution of reactions</text>
<text x="513" y="1125" style="fill:#444" textLength="258" lengthAdjust="spacingAndGlyphs">added during expansion</text>
</g>
<g fill="#c5c5c5">
<circle cx="335" cy="1141" r="9.5"/><circle cx="356" cy="1141" r="8.5"/><circle cx="379" cy="1141" r="7"/><circle cx="401" cy="1141" r="5.5"/><circle cx="423" cy="1141" r="4"/><circle cx="445" cy="1141" r="2.5"/>
</g>
<g class="ln">
<text x="343" y="1158" text-anchor="end" transform="rotate(-50 343 1158)">46</text>
<text x="365" y="1158" text-anchor="end" transform="rotate(-50 365 1158)">38</text>
<text x="387" y="1158" text-anchor="end" transform="rotate(-50 387 1158)">30</text>
<text x="409" y="1158" text-anchor="end" transform="rotate(-50 409 1158)">22</text>
<text x="431" y="1158" text-anchor="end" transform="rotate(-50 431 1158)">14</text>
<text x="450" y="1158" text-anchor="end" transform="rotate(-50 450 1158)">6</text>
<text x="535" y="1162" text-anchor="end" transform="rotate(-50 535 1162)">24</text>
<text x="574" y="1162" text-anchor="end" transform="rotate(-50 574 1162)">23</text>
<text x="612" y="1162" text-anchor="end" transform="rotate(-50 612 1162)">22</text>
<text x="651" y="1162" text-anchor="end" transform="rotate(-50 651 1162)">21</text>
<text x="693" y="1162" text-anchor="end" transform="rotate(-50 693 1162)">17</text>
<text x="729" y="1162" text-anchor="end" transform="rotate(-50 729 1162)">15</text>
<text x="768" y="1162" text-anchor="end" transform="rotate(-50 768 1162)">13</text>
</g>
<use href="#dial" x="527" y="1146" fill="#3b2c7e"/><use href="#dial" x="566" y="1146" fill="#5d2e8c"/><use href="#dial" x="604" y="1146" fill="#6d2158"/><use href="#dial" x="643" y="1146" fill="#b5434f"/><use href="#dial" x="685" y="1146" fill="#e0733a"/><use href="#dial" x="721" y="1146" fill="#e8924a"/><use href="#dial" x="760" y="1146" fill="#e8b548"/>
</g>
</svg>
